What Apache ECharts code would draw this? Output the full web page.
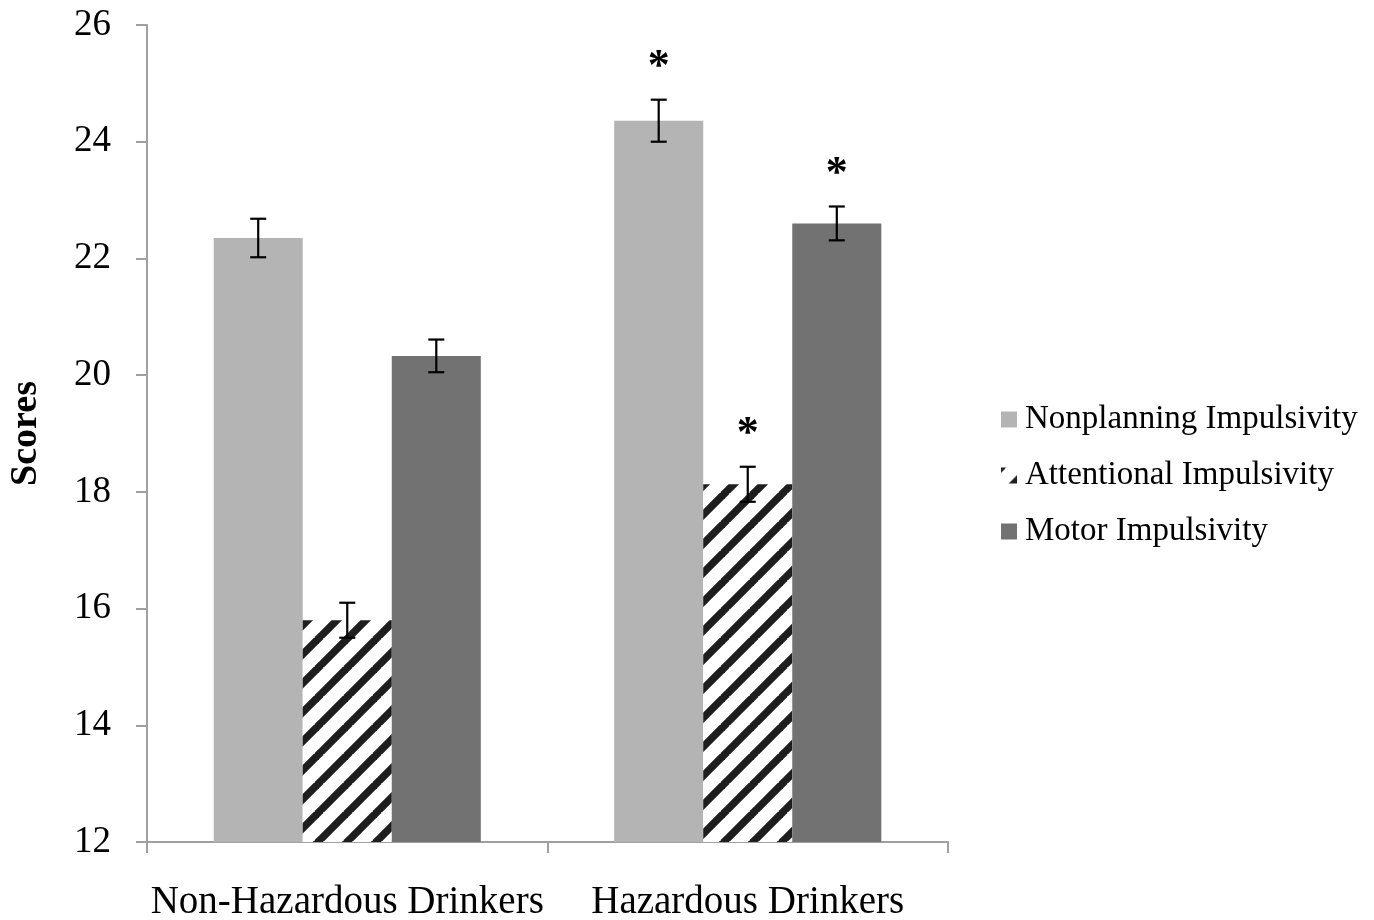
<!DOCTYPE html>
<html>
<head>
<meta charset="utf-8">
<script src="https://cdn.jsdelivr.net/npm/echarts@6/dist/echarts.min.js"></script>
<style>html,body{margin:0;padding:0;background:#fff}#c{width:1374px;height:920px}</style>
</head>
<body>
<div id="c"></div>
<script>
const categories = ['Non-Hazardous Drinkers', 'Hazardous Drinkers'];
const seriesNames = ['Nonplanning Impulsivity', 'Attentional Impulsivity', 'Motor Impulsivity'];
const nonplanning = [22.35, 24.36];
const attentional = [15.80, 18.13];
const motor = [20.33, 22.60];
const nonplanningErr = [0.33, 0.36];
const attentionalErr = [0.30, 0.30];
const motorErr = [0.28, 0.29];
const nonplanningSig = [false, true];
const attentionalSig = [false, true];
const motorSig = [false, true];
const yTicks = [12, 14, 16, 18, 20, 22, 24, 26];

const FONT = '"Liberation Serif", "Times New Roman", serif';
const GAP = 0.333;

function hatch() {
  const P = 29;
  const c = document.createElement('canvas');
  c.width = P; c.height = P;
  const g = c.getContext('2d');
  g.fillStyle = '#ffffff';
  g.fillRect(0, 0, P, P);
  g.strokeStyle = '#1e1e1e';
  g.lineWidth = 7.5;
  for (let k = -1; k <= 1; k++) {
    g.beginPath();
    g.moveTo(k * P - 2, P + 2);
    g.lineTo(k * P + P + 2, -2);
    g.stroke();
  }
  return c;
}
const pattern = { image: hatch(), repeat: 'repeat' };
const colors = ['#b4b4b4', pattern, '#727272'];
const values = [nonplanning, attentional, motor];
const errs = [nonplanningErr, attentionalErr, motorErr];
const sigs = [nonplanningSig, attentionalSig, motorSig];

function errSeries(si) {
  return {
    type: 'custom',
    silent: true,
    z: 10,
    data: categories.map((c, i) => [i, values[si][i], errs[si][i], sigs[si][i] ? 1 : 0]),
    renderItem: function (params, api) {
      const ci = api.value(0), v = api.value(1), e = api.value(2), s = api.value(3);
      const band = api.size([1, 0])[0];
      const bw = band * (1 - GAP) / 3;
      const x = api.coord([ci, v])[0] + (si - 1) * bw;
      const yTop = api.coord([ci, v + e])[1];
      const yBot = api.coord([ci, v - e])[1];
      const cap = 8;
      const st = { stroke: '#000', lineWidth: 2.2 };
      const children = [
        { type: 'line', shape: { x1: x, y1: yTop, x2: x, y2: yBot }, style: st },
        { type: 'line', shape: { x1: x - cap, y1: yTop, x2: x + cap, y2: yTop }, style: st },
        { type: 'line', shape: { x1: x - cap, y1: yBot, x2: x + cap, y2: yBot }, style: st }
      ];
      if (s) {
        children.push({
          type: 'text',
          style: { text: '*', x: x, y: yTop - 32, align: 'center', verticalAlign: 'middle',
                   font: 'bold 44px ' + FONT, fill: '#000' }
        });
      }
      return { type: 'group', children: children };
    }
  };
}

const chart = echarts.init(document.getElementById('c'));
chart.setOption({
  animation: false,
  backgroundColor: '#fff',
  grid: { left: 147, right: 426, top: 25, bottom: 78, containLabel: false, outerBoundsMode: 'none' },
  legend: {
    orient: 'vertical',
    left: 1001,
    top: 403,
    padding: 0,
    itemWidth: 16,
    itemHeight: 16,
    itemGap: 23,
    icon: 'rect',
    data: seriesNames,
    textStyle: { fontFamily: FONT, fontSize: 33, color: '#000', lineHeight: 33, padding: [0, 0, 0, 3] }
  },
  xAxis: {
    type: 'category',
    data: categories,
    axisLine: { lineStyle: { color: '#a0a0a0', width: 2 } },
    axisTick: { show: true, length: 11, lineStyle: { color: '#a0a0a0', width: 2 } },
    axisLabel: { fontFamily: FONT, fontSize: 39, color: '#000', margin: 41, interval: 0, hideOverlap: false }
  },
  yAxis: {
    type: 'value',
    min: 12, max: 26, interval: 2,
    name: 'Scores',
    nameLocation: 'middle',
    nameGap: 102,
    nameRotate: 90,
    nameTextStyle: { fontFamily: FONT, fontSize: 38, fontWeight: 'bold', color: '#000' },
    splitLine: { show: false },
    axisLine: { show: true, lineStyle: { color: '#a0a0a0', width: 2 } },
    axisTick: { show: true, length: 11, lineStyle: { color: '#a0a0a0', width: 2 } },
    axisLabel: { fontFamily: FONT, fontSize: 37, color: '#000', margin: 36,
      formatter: v => yTicks.includes(v) ? String(v) : '' }
  },
  series: [
    ...seriesNames.map((n, si) => ({
      name: n,
      type: 'bar',
      data: values[si],
      barGap: '0%',
      barCategoryGap: (GAP * 100) + '%',
      itemStyle: { color: colors[si] }
    })),
    errSeries(0), errSeries(1), errSeries(2)
  ]
});
</script>
</body>
</html>
